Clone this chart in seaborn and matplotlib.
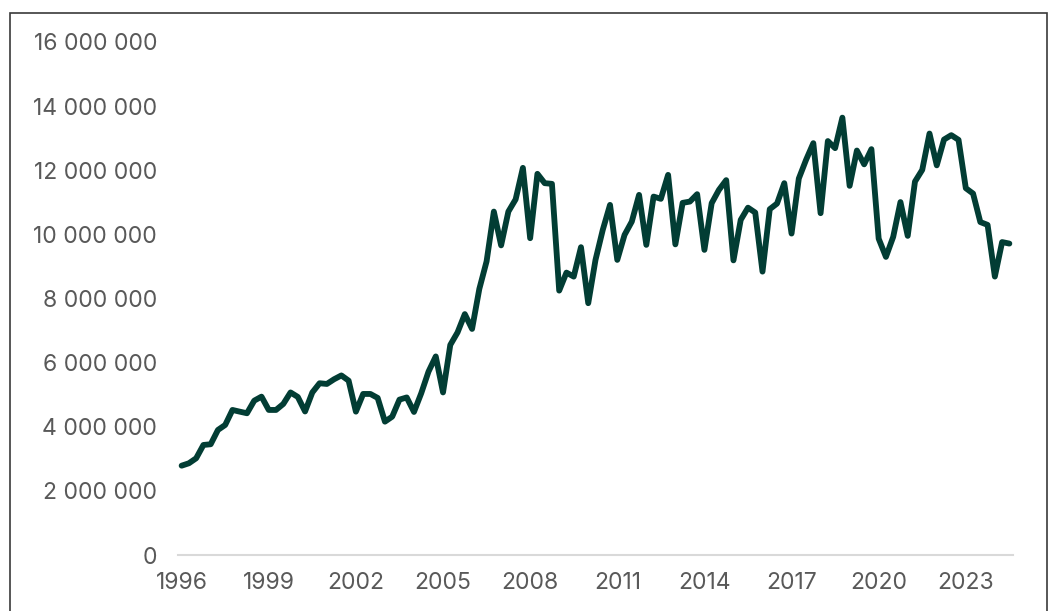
import matplotlib
matplotlib.use("Agg")
import matplotlib.pyplot as plt
from matplotlib.patches import Rectangle
import seaborn as sns
import pandas as pd

# Quarterly values, 1996 Q1 .. 2024 Q3
values = [
    2.786, 2.861, 3.017, 3.432, 3.454, 3.900, 4.056, 4.524, 4.471, 4.421,
    4.814, 4.939, 4.524, 4.524, 4.711, 5.070, 4.930, 4.477, 5.070, 5.357,
    5.335, 5.482, 5.601, 5.438, 4.471, 5.023, 5.023, 4.899, 4.159, 4.315,
    4.846, 4.914, 4.462, 5.045, 5.719, 6.193, 5.070, 6.552, 6.942, 7.513,
    7.051, 8.299, 9.158, 10.711, 9.657, 10.711, 11.092, 12.075, 9.881, 11.888,
    11.597, 11.576, 8.246, 8.808, 8.683, 9.601, 7.853, 9.204, 10.140, 10.920,
    9.204, 9.984, 10.399, 11.232, 9.672, 11.179, 11.108, 11.856, 9.688, 10.983,
    11.023, 11.254, 9.516, 10.973, 11.388, 11.691, 9.189, 10.452, 10.833, 10.680,
    8.839, 10.786, 10.961, 11.597, 10.025, 11.741, 12.324, 12.845, 10.661, 12.911,
    12.689, 13.641, 11.513, 12.615, 12.184, 12.658, 9.866, 9.298, 9.922, 11.008,
    9.953, 11.647, 12.012, 13.145, 12.153, 12.958, 13.095, 12.948, 11.441, 11.273,
    10.384, 10.296, 8.683, 9.760, 9.713,
]
values = [v * 1e6 for v in values]
first_year = 1996
quarters = [f"{first_year + i // 4}Q{i % 4 + 1}" for i in range(len(values))]
year_labels = ["1996", "1999", "2002", "2005", "2008", "2011", "2014", "2017", "2020", "2023"]
y_ticks = [0, 2e6, 4e6, 6e6, 8e6, 10e6, 12e6, 14e6, 16e6]

df = pd.DataFrame({"quarter": quarters, "pos": range(len(values)), "value": values})

sns.set_theme(style="white")
plt.rcParams["font.family"] = ["Inter", "DejaVu Sans"]

W, H = 1055, 611
fig = plt.figure(figsize=(W / 100, H / 100), dpi=100)
ax = fig.add_axes([178 / W, 1 - 555 / H, (1013 - 178) / W, (555 - 42) / H])

sns.lineplot(data=df, x="pos", y="value", ax=ax, color="#023d34", linewidth=4.2,
             solid_joinstyle="round", solid_capstyle="round")

ax.set_xlim(-0.5, len(values) - 0.5)
ax.set_ylim(0, 16e6)
tick_pos = [quarters.index(y + "Q1") for y in year_labels]
ax.set_xticks(tick_pos)
ax.set_xticklabels(year_labels)
ax.set_yticks(y_ticks)
ax.set_yticklabels([f"{v:,.0f}".replace(",", " ") for v in y_ticks])
ax.set_xlabel("")
ax.set_ylabel("")
ax.tick_params(axis="both", length=0, labelsize=16.5, colors="#595959")
ax.tick_params(axis="y", pad=15)
ax.tick_params(axis="x", pad=12)
for s in ["top", "right", "left"]:
    ax.spines[s].set_visible(False)
ax.spines["bottom"].set_color("#d9d9d9")
ax.spines["bottom"].set_linewidth(1.5)
ax.grid(False)

fig.patches.append(Rectangle((9.5 / W, -0.1), (1047 - 9.5) / W, 1.1 - 12.5 / H,
                             transform=fig.transFigure, fill=False,
                             edgecolor="#3a3a3a", linewidth=1.2))

fig.savefig("out.png", dpi=100)
